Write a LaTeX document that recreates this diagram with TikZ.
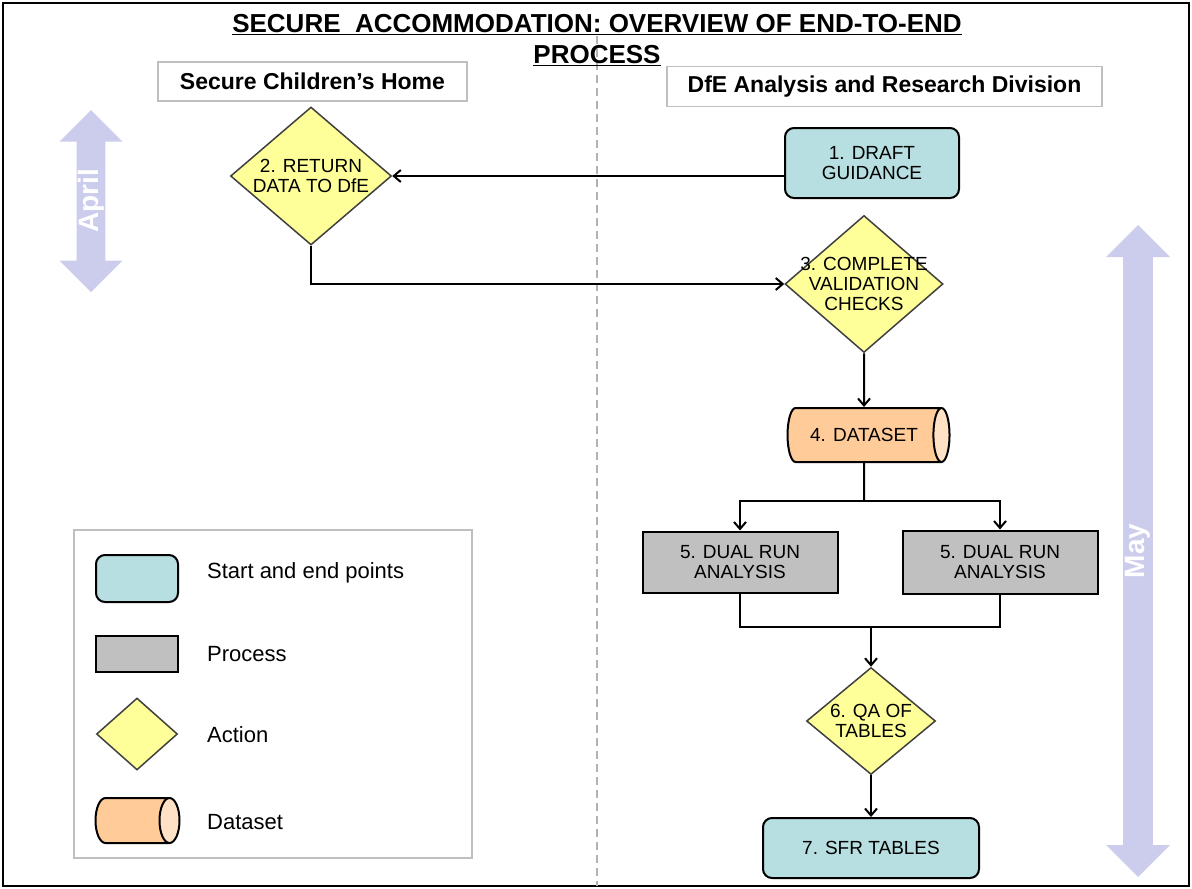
\documentclass[tikz,border=0pt]{standalone}
\usepackage{fontspec}
\setmainfont{Liberation Sans}
\usetikzlibrary{shapes.geometric, shapes.arrows, positioning, arrows.meta}
\definecolor{inicio}{HTML}{B7DEE0}
\definecolor{proceso}{HTML}{C0C0C0}
\definecolor{accion}{HTML}{FFFF99}
\definecolor{datos}{HTML}{FFCC99}
\definecolor{datosfin}{HTML}{FFE2C6}
\definecolor{mes}{HTML}{CCCCEC}
\newcommand{\txtnodo}{\fontsize{19}{20}\selectfont}
\newcommand{\txtley}{\fontsize{22}{24}\selectfont}
\tikzset{
	>={Straight Barb[length=7pt, width=12pt]}, % Puntas abiertas
	flujo/.style={line width=2pt}, % Conectores
	inicio/.style={rectangle, rounded corners=9pt, draw, line width=2pt, fill=inicio, align=center, font=\txtnodo}, % Inicio y fin
	proceso/.style={rectangle, draw, line width=2pt, fill=proceso, align=center, font=\txtnodo}, % Procesos
	accion/.style={diamond, draw=black!75, line width=1.5pt, fill=accion, align=center, font=\txtnodo, inner sep=-20pt}, % Acciones
	datos/.style={cylinder, draw, line width=2pt, cylinder uses custom fill, cylinder body fill=datos, cylinder end fill=datosfin, aspect=1.2, inner sep=0pt, font=\txtnodo}, % Conjuntos de datos
	cabecera/.style={rectangle, draw=black!25, line width=1.5pt, font=\fontsize{23}{25}\selectfont\bfseries}, % Carriles
	mesflecha/.style={double arrow, fill=mes, rotate=90, inner sep=0pt, text=white, font=\fontsize{28}{30}\selectfont\bfseries}, % Meses
	leyenda/.style={font=\txtley, anchor=west, inner sep=0pt} % Texto de la leyenda
}
\begin{document}
\begin{tikzpicture}[x=1pt, y=-1pt]
	\useasboundingbox (0,0) rectangle (1192,889);
	\draw[line width=2.5pt] (3,3) rectangle (1189,886);
	\draw[black!30, dashed, dash pattern=on 8pt off 5pt, line width=1.2pt] (597,36) -- (597,886);
	\node[font=\fontsize{26}{31}\selectfont\bfseries, align=center, inner sep=0pt] (titulo) at (597,40)
		{\underline{SECURE\ \ ACCOMMODATION: OVERVIEW OF END-TO-END}\\\underline{PROCESS}};
	\node[cabecera, minimum width=309pt, minimum height=39pt] (hsch) at (312.5,81.5) {Secure Children's Home};
	\node[cabecera, minimum width=435pt, minimum height=40pt] (hdfe) at (884.5,86.5) {DfE Analysis and Research Division};
	\node[mesflecha, minimum height=182pt, minimum width=63pt, double arrow head extend=16pt] (abril) at (91,201) {April};
	\node[mesflecha, minimum height=652pt, minimum width=64pt, double arrow head extend=14.5pt] (mayo) at (1138,551) {May};
	% Diagrama
	\node[inicio, minimum width=174pt, minimum height=70pt] (b1) at (872,163) {1. DRAFT\\GUIDANCE};
	\node[accion, minimum width=161pt, minimum height=138pt] (d2) at (311,176) {2. RETURN\\DATA TO DfE};
	\node[accion, minimum width=158pt, minimum height=137pt] (d3) at (864,284) {3. COMPLETE\\VALIDATION\\CHECKS};
	\node[datos, minimum width=54pt, minimum height=162pt, below of=d3, node distance=151pt] (ds4) {4. DATASET};
	\node[proceso, minimum width=195pt, minimum height=61pt] (p5a) at (740,562) {5. DUAL RUN\\ANALYSIS};
	\node[proceso, minimum width=195pt, minimum height=63pt, right of=p5a, node distance=260pt] (p5b) {5. DUAL RUN\\ANALYSIS};
	\node[accion, minimum width=129pt, minimum height=107pt] (d6) at (871,721) {6. QA OF\\TABLES};
	\node[inicio, minimum width=216pt, minimum height=60pt, below of=d6, node distance=127pt] (b7) {7. SFR TABLES};
	\coordinate (rama) at (864,501);
	\coordinate (union) at (871,627);
	\draw[flujo, ->] (b1.west |- d2.east) -- (d2.east);
	\draw[flujo, ->] (d2.south) |- (d3.west);
	\draw[flujo, ->] (d3.south) -- (ds4.north);
	\draw[flujo] (ds4.south) -- (rama);
	\draw[flujo, ->] (rama) -| (p5a.north);
	\draw[flujo, ->] (rama) -| (p5b.north);
	\draw[flujo] (p5a.south) |- (union) -| (p5b.south);
	\draw[flujo, ->] (union) -- (d6.north);
	\draw[flujo, ->] (d6.south) -- (b7.north);
	% Leyenda
	\draw[black!25, line width=1.5pt] (74,530) rectangle (472,858);
	\node[inicio, minimum width=82pt, minimum height=47pt] (leyInicio) at (137,578.5) {};
	\node[proceso, minimum width=82pt, minimum height=36pt] (leyProceso) at (137,654) {};
	\node[accion, minimum width=81pt, minimum height=72pt] (leyAccion) at (137,734) {};
	\node[datos, minimum width=45pt, minimum height=84pt, aspect=1] (leyDatos) at (132,820.5) {\strut};
	\node[leyenda] (tInicio) at (207,573) {Start and end points};
	\node[leyenda] (tProceso) at (207,654) {Process};
	\node[leyenda] (tAccion) at (207,735) {Action};
	\node[leyenda] (tDatos) at (207,822) {Dataset};
\end{tikzpicture}
\end{document}
